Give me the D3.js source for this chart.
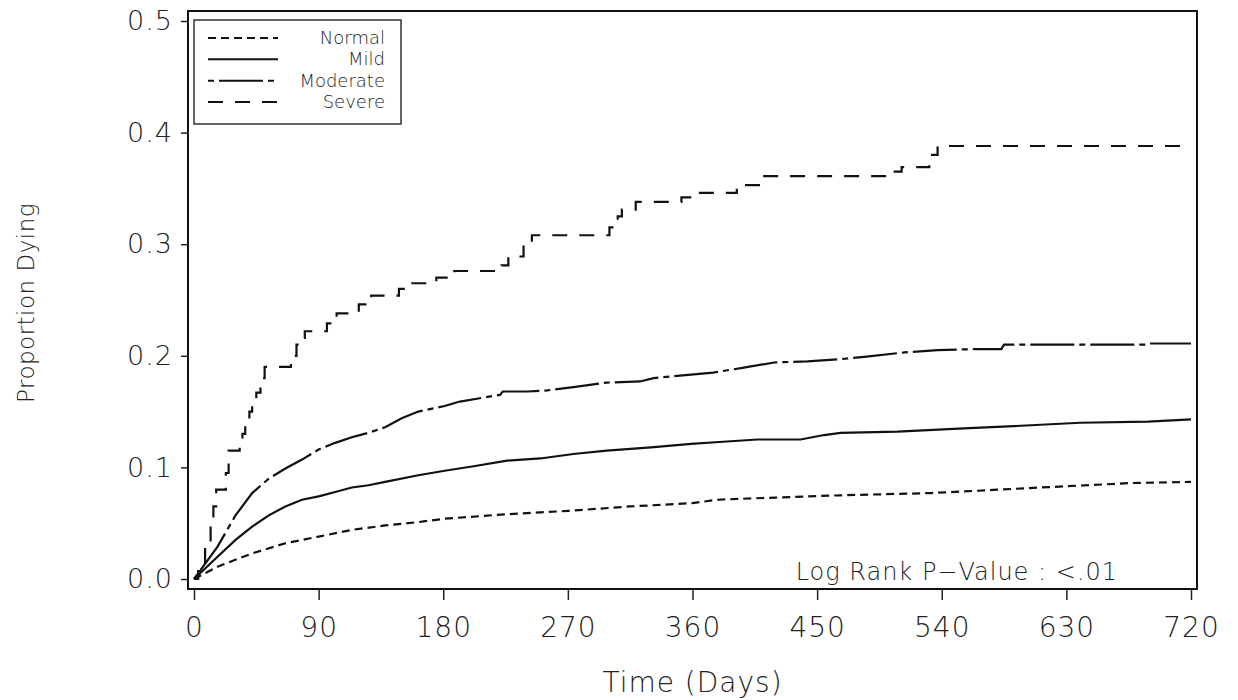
<!DOCTYPE html>
<html lang="en">
<head>
<meta charset="utf-8">
<script src="https://d3js.org/d3.v7.min.js"></script>
<style>
	body { margin: 0; background: #fff; }
	svg { display: block; }
	text { font-family: 'DejaVu Sans', sans-serif; font-weight: 200; fill: #222; }
	.curve { fill: none; stroke: #111; stroke-width: 2.2px; }
</style>
</head>
<body>
<div id="chart"></div>
<script>

var width = 1238, height = 700;

// cumulative proportion dying
var normalT = [0, 17, 42, 66, 90, 114, 138, 162, 181, 225, 270, 315, 360, 378, 420, 467, 532, 580, 628, 677, 720];
var normalV = [0, 0.011, 0.023, 0.032, 0.038, 0.044, 0.048, 0.051, 0.054, 0.058, 0.061, 0.065, 0.068, 0.071, 0.073, 0.075, 0.077, 0.080, 0.083, 0.086, 0.087];

var mildT = [0, 17, 30, 42, 54, 66, 78, 90, 102, 114, 126, 138, 162, 181, 202, 226, 250, 274, 298, 330, 359, 382, 407, 438, 455, 467, 508, 556, 592, 640, 689, 720];
var mildV = [0, 0.020, 0.035, 0.047, 0.057, 0.065, 0.071, 0.074, 0.078, 0.082, 0.084, 0.087, 0.093, 0.097, 0.101, 0.106, 0.108, 0.112, 0.115, 0.118, 0.121, 0.123, 0.125, 0.125, 0.129, 0.131, 0.132, 0.135, 0.137, 0.140, 0.141, 0.143];

var moderateT = [0, 17, 30, 42, 54, 66, 78, 90, 102, 114, 126, 138, 150, 162, 181, 192, 221, 223, 241, 255, 274, 298, 322, 332, 375, 395, 419, 443, 467, 484, 513, 537, 563, 583, 585, 688, 690, 720];
var moderateV = [0, 0.029, 0.057, 0.077, 0.090, 0.099, 0.107, 0.116, 0.122, 0.127, 0.131, 0.136, 0.144, 0.150, 0.155, 0.159, 0.165, 0.168, 0.168, 0.169, 0.172, 0.176, 0.177, 0.180, 0.185, 0.189, 0.194, 0.195, 0.197, 0.199, 0.203, 0.205, 0.206, 0.206, 0.210, 0.210, 0.211, 0.211];

// severe is drawn as a step function
var severeT = [0, 3, 5, 8, 12, 14, 16, 23, 25, 33, 35, 37, 40, 42, 45, 48, 51, 70, 74, 77, 80, 96, 103, 119, 128, 148, 155, 175, 188, 222, 227, 238, 244, 300, 306, 309, 319, 352, 361, 392, 411, 505, 511, 531, 537, 720];
var severeV = [0, 0.007, 0.014, 0.03, 0.05, 0.065, 0.08, 0.095, 0.115, 0.122, 0.13, 0.14, 0.15, 0.158, 0.167, 0.18, 0.19, 0.2, 0.21, 0.216, 0.222, 0.229, 0.238, 0.246, 0.254, 0.26, 0.265, 0.27, 0.276, 0.281, 0.289, 0.30, 0.308, 0.315, 0.325, 0.331, 0.338, 0.342, 0.346, 0.353, 0.361, 0.365, 0.369, 0.38, 0.388, 0.388];

var groups = ["Normal", "Mild", "Moderate", "Severe"];
var xTicks = [0, 90, 180, 270, 360, 450, 540, 630, 720];
var yTicks = [0, 0.1, 0.2, 0.3, 0.4, 0.5];

var dashes = {
	Normal: "8,5",
	Mild: null,
	Moderate: "6,5,44,5",
	Severe: "15,12"
};

var series = [
	{ name: "Normal", t: normalT, v: normalV, step: false },
	{ name: "Mild", t: mildT, v: mildV, step: false },
	{ name: "Moderate", t: moderateT, v: moderateV, step: false },
	{ name: "Severe", t: severeT, v: severeV, step: true }
];

var x = d3.scaleLinear().domain([0, 720]).range([194, 1191]);
var y = d3.scaleLinear().domain([0, 0.5]).range([579, 21]);

var svg = d3.select("#chart").append("svg")
	.attr("width", width)
	.attr("height", height);

// frame
svg.append("rect")
	.attr("x", 188).attr("y", 11)
	.attr("width", 1197 - 188).attr("height", 589 - 11)
	.style("fill", "none")
	.style("stroke", "#111")
	.style("stroke-width", 2);

// x axis ticks
var xAxis = svg.append("g")
	.attr("transform", "translate(0,589)")
	.call(d3.axisBottom(x).tickValues(xTicks).tickSize(11).tickPadding(17).tickSizeOuter(0));
xAxis.select(".domain").remove();
xAxis.selectAll(".tick line").style("stroke", "#222").style("stroke-width", 1.5);
xAxis.selectAll(".tick text")
	.style("font-size", "28px")
	.style("letter-spacing", "1px")
	.style("font-family", "'DejaVu Sans', sans-serif")
	.style("fill", "#222");

// y axis ticks
var yAxis = svg.append("g")
	.attr("transform", "translate(188,0)")
	.call(d3.axisLeft(y).tickValues(yTicks).tickFormat(d3.format(".1f")).tickSize(7).tickPadding(8).tickSizeOuter(0));
yAxis.select(".domain").remove();
yAxis.selectAll(".tick line").style("stroke", "#222").style("stroke-width", 1.5);
yAxis.selectAll(".tick text")
	.style("font-size", "27px")
	.style("letter-spacing", "1px")
	.style("font-family", "'DejaVu Sans', sans-serif")
	.style("fill", "#222");

// axis titles
svg.append("text")
	.attr("x", x(360)).attr("y", 692)
	.attr("text-anchor", "middle")
	.style("font-size", "28px")
	.style("letter-spacing", "1px")
	.text("Time (Days)");

svg.append("text")
	.attr("transform", "translate(34," + (y(0.25) + 3) + ") rotate(-90)")
	.attr("text-anchor", "middle")
	.style("font-size", "23px")
	.style("letter-spacing", "0.5px")
	.text("Proportion Dying");

// curves
var line = d3.line()
	.x(function(d) { return x(d[0]); })
	.y(function(d) { return y(d[1]); });

series.forEach(function(s) {
	var pts = s.t.map(function(t, i) { return [t, s.v[i]]; });
	line.curve(s.step ? d3.curveStepAfter : d3.curveLinear);
	svg.append("path")
		.datum(pts)
		.attr("class", "curve")
		.attr("d", line)
		.style("stroke-dasharray", dashes[s.name]);
});

// legend
var legend = svg.append("g");
legend.append("rect")
	.attr("x", 194).attr("y", 20)
	.attr("width", 207).attr("height", 104)
	.style("fill", "#fff")
	.style("stroke", "#333")
	.style("stroke-width", 1.5);

var rowY = d3.scalePoint().domain(groups).range([38, 102]);

groups.forEach(function(g) {
	legend.append("line")
		.attr("x1", 208).attr("x2", 278)
		.attr("y1", rowY(g)).attr("y2", rowY(g))
		.style("stroke", "#111")
		.style("stroke-width", 2)
		.style("stroke-dasharray", dashes[g]);
	legend.append("text")
		.attr("x", 385).attr("y", rowY(g) + 6)
		.attr("text-anchor", "end")
		.style("font-size", "18px")
		.text(g);
});

svg.append("text")
	.attr("x", 1118).attr("y", 580)
	.attr("text-anchor", "end")
	.style("font-size", "24px")
	.style("letter-spacing", "1px")
	.text("Log Rank P\u2212Value : <.01");

</script>
</body>
</html>
